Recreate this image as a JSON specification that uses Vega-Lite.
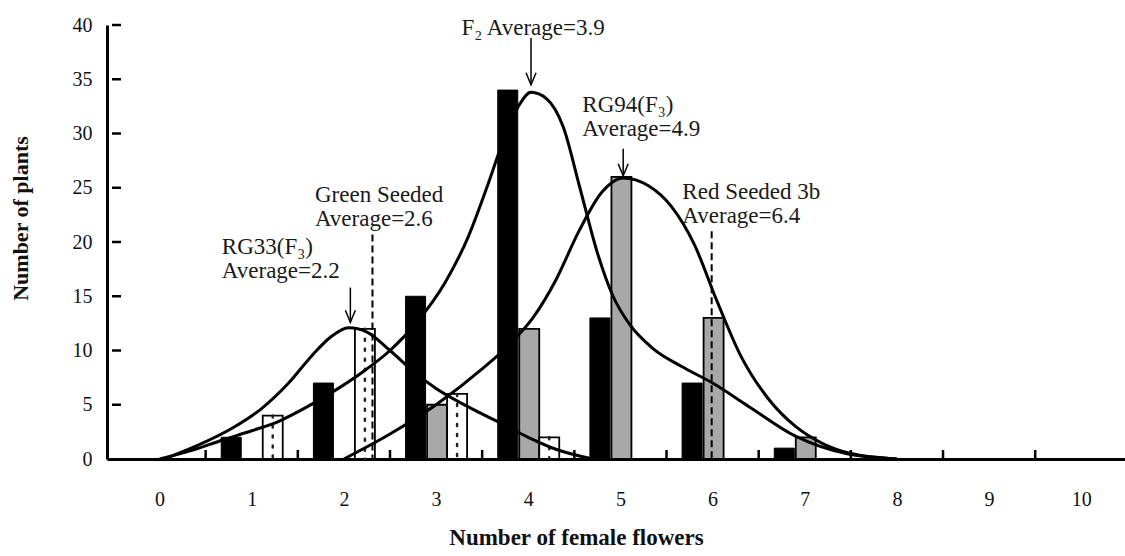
{
  "$schema": "https://vega.github.io/schema/vega-lite/v6.json",
  "width": 1018,
  "height": 434,
  "autosize": {"type": "none"},
  "padding": {"left": 107, "top": 25, "right": 0, "bottom": 97},
  "background": "white",
  "config": {
    "view": {"stroke": null},
    "font": "Liberation Serif",
    "axis": {
      "labelFont": "Liberation Serif",
      "titleFont": "Liberation Serif",
      "domainColor": "#000",
      "domainWidth": 3,
      "labelColor": "#111",
      "titleColor": "#111",
      "ticks": false,
      "grid": false
    }
  },
  "datasets": {
    "bars": [
      {"x": 1, "y": 2, "s": "F2"}, {"x": 2, "y": 7, "s": "F2"}, {"x": 3, "y": 15, "s": "F2"},
      {"x": 4, "y": 34, "s": "F2"}, {"x": 5, "y": 13, "s": "F2"}, {"x": 6, "y": 7, "s": "F2"},
      {"x": 7, "y": 1, "s": "F2"},
      {"x": 3, "y": 5, "s": "RG94"}, {"x": 4, "y": 12, "s": "RG94"}, {"x": 5, "y": 26, "s": "RG94"},
      {"x": 6, "y": 13, "s": "RG94"}, {"x": 7, "y": 2, "s": "RG94"},
      {"x": 1, "y": 4, "s": "RG33"}, {"x": 2, "y": 12, "s": "RG33"}, {"x": 3, "y": 6, "s": "RG33"},
      {"x": 4, "y": 2, "s": "RG33"}
    ],
    "curves": [
      {"s": "F2", "x": 0, "y": 0}, {"s": "F2", "x": 0.35, "y": 0.8}, {"s": "F2", "x": 0.7, "y": 1.8},
      {"s": "F2", "x": 1.0, "y": 2.6}, {"s": "F2", "x": 1.3, "y": 3.5}, {"s": "F2", "x": 1.6, "y": 4.8},
      {"s": "F2", "x": 1.9, "y": 6.3}, {"s": "F2", "x": 2.2, "y": 8.0}, {"s": "F2", "x": 2.5, "y": 10.0},
      {"s": "F2", "x": 2.8, "y": 12.7}, {"s": "F2", "x": 3.1, "y": 16.3}, {"s": "F2", "x": 3.35, "y": 20.5},
      {"s": "F2", "x": 3.55, "y": 25}, {"s": "F2", "x": 3.75, "y": 29.8}, {"s": "F2", "x": 3.9, "y": 32.6},
      {"s": "F2", "x": 4.03, "y": 33.8}, {"s": "F2", "x": 4.2, "y": 33.2}, {"s": "F2", "x": 4.38, "y": 30.6},
      {"s": "F2", "x": 4.56, "y": 25}, {"s": "F2", "x": 4.75, "y": 19}, {"s": "F2", "x": 4.92, "y": 15},
      {"s": "F2", "x": 5.1, "y": 12.4}, {"s": "F2", "x": 5.35, "y": 10.2}, {"s": "F2", "x": 5.67, "y": 8.5},
      {"s": "F2", "x": 6.0, "y": 7.0}, {"s": "F2", "x": 6.4, "y": 4.8}, {"s": "F2", "x": 6.9, "y": 2.1},
      {"s": "F2", "x": 7.45, "y": 0.5}, {"s": "F2", "x": 8.0, "y": 0},
      {"s": "RG33", "x": 0.05, "y": 0}, {"s": "RG33", "x": 0.4, "y": 1.2}, {"s": "RG33", "x": 0.8, "y": 2.9},
      {"s": "RG33", "x": 1.1, "y": 4.6}, {"s": "RG33", "x": 1.4, "y": 7.0}, {"s": "RG33", "x": 1.65, "y": 9.5},
      {"s": "RG33", "x": 1.85, "y": 11.2}, {"s": "RG33", "x": 2.05, "y": 12.1}, {"s": "RG33", "x": 2.25, "y": 11.7},
      {"s": "RG33", "x": 2.5, "y": 10.0}, {"s": "RG33", "x": 2.75, "y": 8.1}, {"s": "RG33", "x": 3.0, "y": 6.5},
      {"s": "RG33", "x": 3.35, "y": 4.8}, {"s": "RG33", "x": 3.7, "y": 3.3}, {"s": "RG33", "x": 4.0, "y": 2.0},
      {"s": "RG33", "x": 4.3, "y": 0.9}, {"s": "RG33", "x": 4.7, "y": 0},
      {"s": "RG94", "x": 2.0, "y": 0}, {"s": "RG94", "x": 2.5, "y": 2.3}, {"s": "RG94", "x": 3.0, "y": 5.0},
      {"s": "RG94", "x": 3.5, "y": 8.3}, {"s": "RG94", "x": 3.8, "y": 10.6}, {"s": "RG94", "x": 4.05, "y": 13},
      {"s": "RG94", "x": 4.3, "y": 16.5}, {"s": "RG94", "x": 4.55, "y": 21}, {"s": "RG94", "x": 4.8, "y": 24.6},
      {"s": "RG94", "x": 5.03, "y": 25.9}, {"s": "RG94", "x": 5.3, "y": 25.2}, {"s": "RG94", "x": 5.55, "y": 23.3},
      {"s": "RG94", "x": 5.8, "y": 19.8}, {"s": "RG94", "x": 6.05, "y": 14.5}, {"s": "RG94", "x": 6.3, "y": 9.6},
      {"s": "RG94", "x": 6.6, "y": 5.6}, {"s": "RG94", "x": 6.9, "y": 3.0}, {"s": "RG94", "x": 7.2, "y": 1.4},
      {"s": "RG94", "x": 7.5, "y": 0.5}, {"s": "RG94", "x": 8.0, "y": 0}
    ],
    "arrows": [
      {"x": 4.03, "y": 38.8, "y2": 34.5},
      {"x": 5.03, "y": 28.6, "y2": 26.1},
      {"x": 2.07, "y": 15.8, "y2": 12.6}
    ],
    "dashes": [
      {"x": 2.31, "y": 20.7, "y2": 0},
      {"x": 5.99, "y": 21.0, "y2": 0}
    ],
    "xticks": [
      {"x": 0.5, "y": 0}, {"x": 1.5, "y": 0}, {"x": 2.5, "y": 0}, {"x": 3.5, "y": 0}, {"x": 4.5, "y": 0},
      {"x": 5.5, "y": 0}, {"x": 6.5, "y": 0}, {"x": 7.5, "y": 0}, {"x": 8.5, "y": 0}, {"x": 9.5, "y": 0}
    ],
    "yticks": [
      {"x": -0.516, "y": 5}, {"x": -0.516, "y": 10}, {"x": -0.516, "y": 15}, {"x": -0.516, "y": 20},
      {"x": -0.516, "y": 25}, {"x": -0.516, "y": 30}, {"x": -0.516, "y": 35}, {"x": -0.516, "y": 40}
    ],
    "labels": [
      {"x": 3.276, "y": 39.1, "t": "F₂ Average=3.9"},
      {"x": 4.587, "y": 32.0, "t": "RG94(F₃)\nAverage=4.9"},
      {"x": 5.672, "y": 24.0, "t": "Red Seeded 3b\nAverage=6.4"},
      {"x": 1.686, "y": 23.7, "t": "Green Seeded\nAverage=2.6"},
      {"x": 0.676, "y": 18.9, "t": "RG33(F₃)\nAverage=2.2"}
    ]
  },
  "encoding": {
    "x": {
      "field": "x",
      "type": "quantitative",
      "scale": {"domain": [-0.516, 10.42], "nice": false, "zero": false},
      "axis": {
        "values": [0, 1, 2, 3, 4, 5, 6, 7, 8, 9, 10],
        "format": "d",
        "labelPadding": 30,
        "labelFontSize": 20,
        "labelOverlap": false,
        "labelFlush": false,
        "labelBound": false,
        "title": "Number of female flowers",
        "titleFontSize": 23,
        "titleFontWeight": "bold",
        "titlePadding": 17,
        "titleX": 469
      }
    },
    "y": {
      "field": "y",
      "type": "quantitative",
      "scale": {"domain": [0, 40], "nice": false},
      "axis": {
        "values": [0, 5, 10, 15, 20, 25, 30, 35, 40],
        "labelPadding": 15,
        "labelFontSize": 20,
        "title": "Number of plants",
        "titleFontSize": 22,
        "titleFontWeight": "bold",
        "titlePadding": 40,
        "titleY": 193
      }
    }
  },
  "layer": [
    {
      "data": {"name": "xticks"},
      "mark": {"type": "tick", "orient": "vertical", "size": 9, "thickness": 2.5, "yOffset": -4.5, "color": "#000", "opacity": 1}
    },
    {
      "data": {"name": "yticks"},
      "mark": {"type": "tick", "orient": "horizontal", "size": 9, "thickness": 2.5, "xOffset": 4.5, "color": "#000", "opacity": 1}
    },
    {
      "data": {"name": "bars"},
      "transform": [{"filter": "datum.s === 'F2'"}],
      "mark": {"type": "bar", "width": 20, "xOffset": -20.5, "fill": "#000", "stroke": "#000", "strokeWidth": 1}
    },
    {
      "data": {"name": "bars"},
      "transform": [{"filter": "datum.s === 'RG94'"}],
      "mark": {"type": "bar", "width": 20, "xOffset": 1, "fill": "#a8a8a8", "stroke": "#000", "strokeWidth": 1.8}
    },
    {
      "data": {"name": "bars"},
      "transform": [{"filter": "datum.s === 'RG33'"}],
      "mark": {"type": "bar", "width": 20, "xOffset": 21, "fill": "#fff", "stroke": "#000", "strokeWidth": 1.8}
    },
    {
      "data": {"name": "bars"},
      "transform": [{"filter": "datum.s === 'RG33'"}],
      "mark": {"type": "rule", "xOffset": 21, "stroke": "#222", "strokeWidth": 2.5, "strokeDash": [2, 8], "strokeCap": "round"},
      "encoding": {"y2": {"datum": 0}}
    },
    {
      "data": {"name": "curves"},
      "mark": {"type": "line", "interpolate": "monotone", "stroke": "#000", "strokeWidth": 3},
      "encoding": {"detail": {"field": "s"}}
    },
    {
      "data": {"name": "dashes"},
      "mark": {"type": "rule", "stroke": "#000", "strokeWidth": 2, "strokeDash": [7, 4]},
      "encoding": {"y2": {"field": "y2"}}
    },
    {
      "data": {"name": "arrows"},
      "mark": {"type": "rule", "stroke": "#000", "strokeWidth": 1.5},
      "encoding": {"y2": {"field": "y2"}}
    },
    {
      "data": {"name": "arrows"},
      "mark": {"type": "point", "shape": "M-0.5,-1.2L0,0L0.5,-1.2", "size": 400, "filled": false, "stroke": "#000", "strokeWidth": 1.5, "opacity": 1},
      "encoding": {"y": {"field": "y2", "type": "quantitative"}}
    },
    {
      "data": {"name": "labels"},
      "mark": {"type": "text", "align": "left", "baseline": "alphabetic", "fontSize": 23, "lineBreak": "\n", "lineHeight": 24, "font": "Liberation Serif", "fill": "#1a1a1a"},
      "encoding": {"text": {"field": "t"}}
    }
  ]
}
